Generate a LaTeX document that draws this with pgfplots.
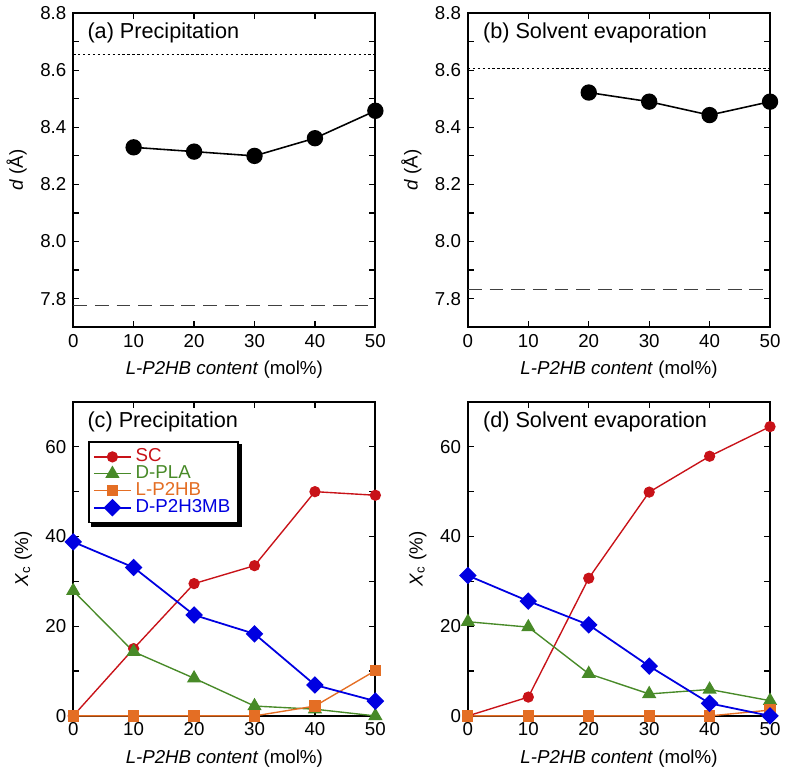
\documentclass[border=0pt]{standalone}
\usepackage{fontspec}
\setmainfont{Liberation Sans}
\usepackage{pgfplots}
\pgfplotsset{compat=1.18}
\usepgfplotslibrary{groupplots}
\usetikzlibrary{backgrounds}

\definecolor{scred}{RGB}{200,18,24}
\definecolor{plagreen}{RGB}{72,138,40}
\definecolor{hborange}{RGB}{228,110,36}
\definecolor{mbblue}{RGB}{0,0,225}

\newcommand{\ticksize}{\fontsize{9.5}{10.5}\selectfont}
\newcommand{\titlesize}{\fontsize{11}{12}\selectfont}

\begin{document}
\begin{tikzpicture}
\begin{groupplot}[
  group style={group size=2 by 2, horizontal sep=47pt, vertical sep=38pt},
  scale only axis, width=153.5pt, height=159.5pt,
  xmin=0, xmax=50, xtick={0,10,20,30,40,50},
  tick align=inside, major tick length=3pt, minor tick length=3pt,
  minor y tick num=1,
  tick style={black, line width=0.6pt},
  axis line style={line width=0.9pt},
  /pgf/number format/assume math mode=true,
  tick label style={font=\ticksize},
  label style={font=\ticksize},
  xlabel={\textit{L-P2HB content} (mol\%)},
  clip=false,
  legend cell align=left,
]

% (a) precipitation, d-spacing
\nextgroupplot[ymin=7.7, ymax=8.8, ytick={7.8,8.0,8.2,8.4,8.6,8.8},
  yticklabel style={/pgf/number format/.cd, fixed, fixed zerofill, precision=1},
  ylabel={\textit{d} (Å)}]
\addplot[black, line width=0.7pt, dash pattern=on 1.2pt off 1.3pt] coordinates {(0,8.655) (50,8.655)};
\addplot[black!75, line width=0.7pt, dash pattern=on 7pt off 4pt] coordinates {(0,7.775) (50,7.775)};
\addplot[black, line width=0.8pt, mark=*, mark size=3.75pt] coordinates {
  (10,8.330) (20,8.315) (30,8.300) (40,8.362) (50,8.458)};
\node[anchor=west, inner sep=0pt] at (rel axis cs:0.046,0.937) {\titlesize (a) Precipitation};

% (b) solvent evaporation, d-spacing
\nextgroupplot[ymin=7.7, ymax=8.8, ytick={7.8,8.0,8.2,8.4,8.6,8.8},
  yticklabel style={/pgf/number format/.cd, fixed, fixed zerofill, precision=1},
  ylabel={\textit{d} (Å)}]
\addplot[black, line width=0.7pt, dash pattern=on 1.2pt off 1.3pt] coordinates {(0,8.607) (50,8.607)};
\addplot[black!75, line width=0.7pt, dash pattern=on 7pt off 4pt] coordinates {(0,7.833) (50,7.833)};
\addplot[black, line width=0.8pt, mark=*, mark size=3.75pt] coordinates {
  (20,8.522) (30,8.490) (40,8.443) (50,8.490)};
\node[anchor=west, inner sep=0pt] at (rel axis cs:0.049,0.937) {\titlesize (b) Solvent evaporation};

% (c) precipitation, crystallinity
\nextgroupplot[ymin=0, ymax=70, ytick={0,20,40,60},
  ylabel={\textit{X}\textsubscript{c} (\%)},
  legend style={name=leg, at={(rel axis cs:0.05,0.875)}, anchor=north west,
    draw=black, line width=0.8pt, fill=white, font=\ticksize,
    row sep=-3.5pt, inner xsep=2pt, inner ysep=1.5pt},
  legend image code/.code={\draw[mark repeat=2, mark phase=2] plot coordinates {(0cm,0cm) (0.33cm,0cm) (0.66cm,0cm)};}]
\addplot[scred, line width=0.7pt, mark=*, mark size=2.5pt] coordinates {
  (0,0) (10,15.0) (20,29.5) (30,33.5) (40,50.0) (50,49.2)};
\addlegendentry{\textcolor{scred}{SC}}
\addplot[plagreen, line width=0.7pt, mark=triangle*, mark size=3.5pt] coordinates {
  (0,27.9) (10,14.3) (20,8.4) (30,2.2) (40,1.5) (50,0)};
\addlegendentry{\textcolor{plagreen}{D-PLA}}
\addplot[hborange, line width=0.7pt, mark=square*, mark size=2.5pt] coordinates {
  (0,0) (10,0) (20,0) (30,0) (40,2.2) (50,10.1)};
\addlegendentry{\textcolor{hborange}{L-P2HB}}
\addplot[mbblue, line width=0.9pt, mark=square*, mark options={rotate=45}, mark size=2.7pt] coordinates {
  (0,38.8) (10,33.1) (20,22.5) (30,18.3) (40,6.9) (50,3.3)};
\addlegendentry{\textcolor{mbblue}{D-P2H3MB}}
\node[anchor=west, inner sep=0pt] at (rel axis cs:0.046,0.937) {\titlesize (c) Precipitation};

% (d) solvent evaporation, crystallinity
\nextgroupplot[ymin=0, ymax=70, ytick={0,20,40,60},
  ylabel={\textit{X}\textsubscript{c} (\%)}]
\addplot[scred, line width=0.7pt, mark=*, mark size=2.5pt] coordinates {
  (0,0) (10,4.2) (20,30.7) (30,49.9) (40,57.9) (50,64.5)};
\addplot[plagreen, line width=0.7pt, mark=triangle*, mark size=3.5pt] coordinates {
  (0,21.0) (10,19.8) (20,9.4) (30,4.9) (40,5.9) (50,3.4)};
\addplot[hborange, line width=0.7pt, mark=square*, mark size=2.5pt] coordinates {
  (0,0) (10,0) (20,0) (30,0) (40,0) (50,1.3)};
\addplot[mbblue, line width=0.9pt, mark=square*, mark options={rotate=45}, mark size=2.7pt] coordinates {
  (0,31.3) (10,25.6) (20,20.3) (30,11.1) (40,2.8) (50,0)};
\node[anchor=west, inner sep=0pt] at (rel axis cs:0.049,0.937) {\titlesize (d) Solvent evaporation};
\end{groupplot}
% drop shadow of the legend box in (c)
\begin{scope}[on background layer]
\fill[black] ([xshift=1.6pt,yshift=-1.6pt]leg.south west) rectangle ([xshift=1.6pt,yshift=-1.6pt]leg.north east);
\end{scope}
\end{tikzpicture}
\end{document}
